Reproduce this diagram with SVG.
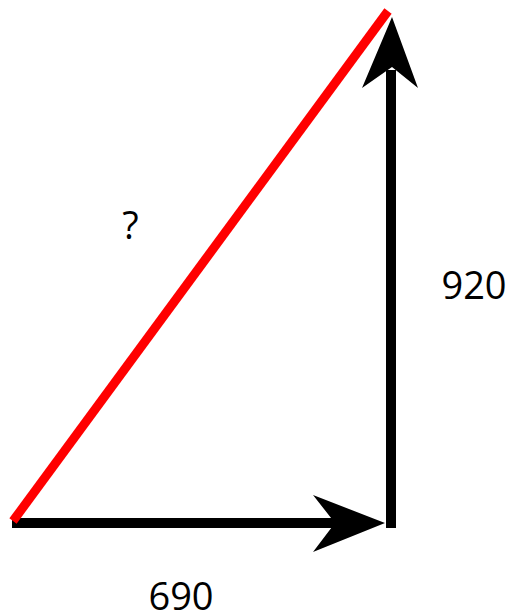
<svg xmlns="http://www.w3.org/2000/svg" width="514" height="614" viewBox="0 0 514 614">
<style>
.lbl{font-family:"Open Sans","Noto Sans",sans-serif;font-size:38px;fill:#000;text-anchor:middle}
.arr{stroke:#000;stroke-width:10;fill:none}
</style>
<rect width="514" height="614" fill="#fff"/>
<g id="connectors">
<g id="horizontal">
<line class="arr" x1="12" y1="523" x2="345" y2="523"/>
<polygon points="385,523 313,495 335,523 313,552" fill="#000"/>
</g>
<g id="vertical">
<line class="arr" x1="391" y1="528" x2="391" y2="70"/>
<polygon points="392,17 362,88 392,67 418,88" fill="#000"/>
</g>
<g id="hypotenuse">
<line x1="13" y1="521" x2="388" y2="11" stroke="#ff0000" stroke-width="9"/>
</g>
</g>
<g id="label-q"><text class="lbl" x="130.5" y="239">?</text></g>
<g id="label-920"><text class="lbl" x="474" y="299">920</text></g>
<g id="label-690"><text class="lbl" x="181" y="610">690</text></g>
</svg>
